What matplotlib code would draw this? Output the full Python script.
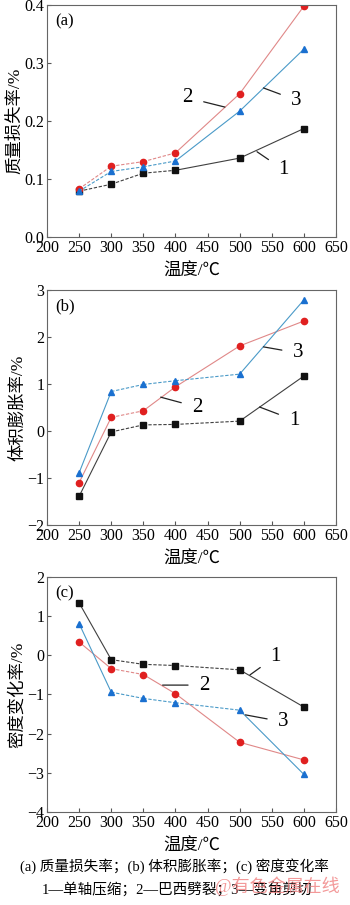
import matplotlib
matplotlib.use("Agg")
from matplotlib import pyplot as plt

plt.rcParams['font.family'] = ['Liberation Serif', 'Noto Sans CJK SC']
plt.rcParams['font.size'] = 11

temps = [250, 300, 350, 400, 500, 600]

# (a) mass loss rate /%
mass_1 = [0.079, 0.091, 0.110, 0.115, 0.136, 0.187]
mass_2 = [0.083, 0.122, 0.130, 0.145, 0.247, 0.398]
mass_3 = [0.079, 0.113, 0.121, 0.131, 0.217, 0.324]

# (b) volume expansion rate /%
vol_1 = [-1.39, -0.02, 0.13, 0.14, 0.21, 1.17]
vol_2 = [-1.10, 0.29, 0.43, 0.94, 1.81, 2.34]
vol_3 = [-0.89, 0.84, 0.99, 1.07, 1.21, 2.79]

# (c) density change rate /%
dens_1 = [1.34, -0.11, -0.23, -0.26, -0.37, -1.32]
dens_2 = [0.34, -0.34, -0.49, -0.98, -2.22, -2.67]
dens_3 = [0.81, -0.94, -1.10, -1.21, -1.40, -3.04]

panel_labels = ['(a)', '(b)', '(c)']
y_titles = ['质量损失率/%', '体积膨胀率/%', '密度变化率/%']
x_title = '温度/℃'
caption_1 = '(a) 质量损失率；(b) 体积膨胀率；(c) 密度变化率'
caption_2 = '1—单轴压缩；2—巴西劈裂；3—变角剪切'
watermark = '@有色金属在线'

line_colors = ['#404040', '#e08888', '#4a9ac8']
marker_colors = ['#111111', '#e02020', '#1a70d0']
markers = ['s', 'o', '^']

# which segments (index of start point) are dashed, per panel per series
dashed = [
    [{0, 1, 2}, {0, 1, 2}, {0, 1, 2}],
    [{1, 2, 3}, {1}, {1, 2, 3}],
    [{1, 2, 3}, {1}, {1, 2, 3}],
]

# label text positions and leader line targets (data coords)
notes = [
    [('1', (568, 0.116), (527, 0.147)), ('2', (419, 0.240), (477, 0.224)),
     ('3', (588, 0.236), (537, 0.257))],
    [('1', (585, 0.23), (531, 0.51)), ('2', (434, 0.51), (377, 0.72)),
     ('3', (591, 1.66), (537, 1.79))],
    [('1', (555, -0.04), (516, -0.50)), ('2', (445, -0.76), (380, -0.76)),
     ('3', (568, -1.70), (509, -1.52))],
]

data = [[mass_1, mass_2, mass_3], [vol_1, vol_2, vol_3], [dens_1, dens_2, dens_3]]
ylims = [(0.0, 0.4), (-2, 3), (-4, 2)]
yticks = [[0.0, 0.1, 0.2, 0.3, 0.4], [-2, -1, 0, 1, 2, 3], [-4, -3, -2, -1, 0, 1, 2]]
ytick_fmt = [lambda v: f"{v:.1f}", lambda v: f"{v:g}".replace('-', '−'),
             lambda v: f"{v:g}".replace('-', '−')]

fig = plt.figure(figsize=(3.5, 9.05), dpi=100)
W, H = 350, 905
boxes = [(47, 5, 336, 237), (47, 290, 336, 525), (47, 577, 336, 812)]

for p in range(3):
    x0, y0, x1, y1 = boxes[p]
    ax = fig.add_axes([x0 / W, 1 - y1 / H, (x1 - x0) / W, (y1 - y0) / H])
    for s in range(3):
        ys = data[p][s]
        for i in range(len(temps) - 1):
            ls = (0, (3, 1.5)) if i in dashed[p][s] else '-'
            ax.plot(temps[i:i + 2], ys[i:i + 2], color=line_colors[s], lw=0.8, ls=ls)
        ax.plot(temps, ys, ls='none', marker=markers[s], color=marker_colors[s], ms=4.5)
    for txt, tpos, target in notes[p]:
        ax.annotate(txt, xy=target, xytext=tpos, fontsize=15, ha='center', va='center',
                    arrowprops=dict(arrowstyle='-', color='#222222', lw=0.9,
                                    shrinkA=6, shrinkB=0))
    ax.set_xlim(200, 650)
    ax.set_ylim(*ylims[p])
    ax.set_xticks(range(200, 651, 50))
    ax.set_yticks(yticks[p])
    ax.set_yticklabels([ytick_fmt[p](v) for v in yticks[p]])
    ax.tick_params(direction='in', length=3, labelsize=11.5, pad=2, color='#555555')
    for sp in ax.spines.values():
        sp.set_color('#666666')
        sp.set_linewidth(0.8)
    ax.text(0.03, 0.965, panel_labels[p], transform=ax.transAxes, fontsize=12,
            ha='left', va='top')
    ax.set_ylabel(y_titles[p], fontsize=12.5, labelpad=1)
    ax.set_xlabel(x_title, fontsize=12.5, labelpad=6)

fig.text(174 / W, 1 - 866 / H, caption_1, ha='center', va='center', fontsize=10.5)
fig.text(177 / W, 1 - 889 / H, caption_2, ha='center', va='center', fontsize=10.5)
fig.text(277 / W, 1 - 886 / H, watermark, ha='center', va='center', fontsize=13,
         color='#f08080', alpha=0.8)

fig.savefig('out.png', dpi=100)
